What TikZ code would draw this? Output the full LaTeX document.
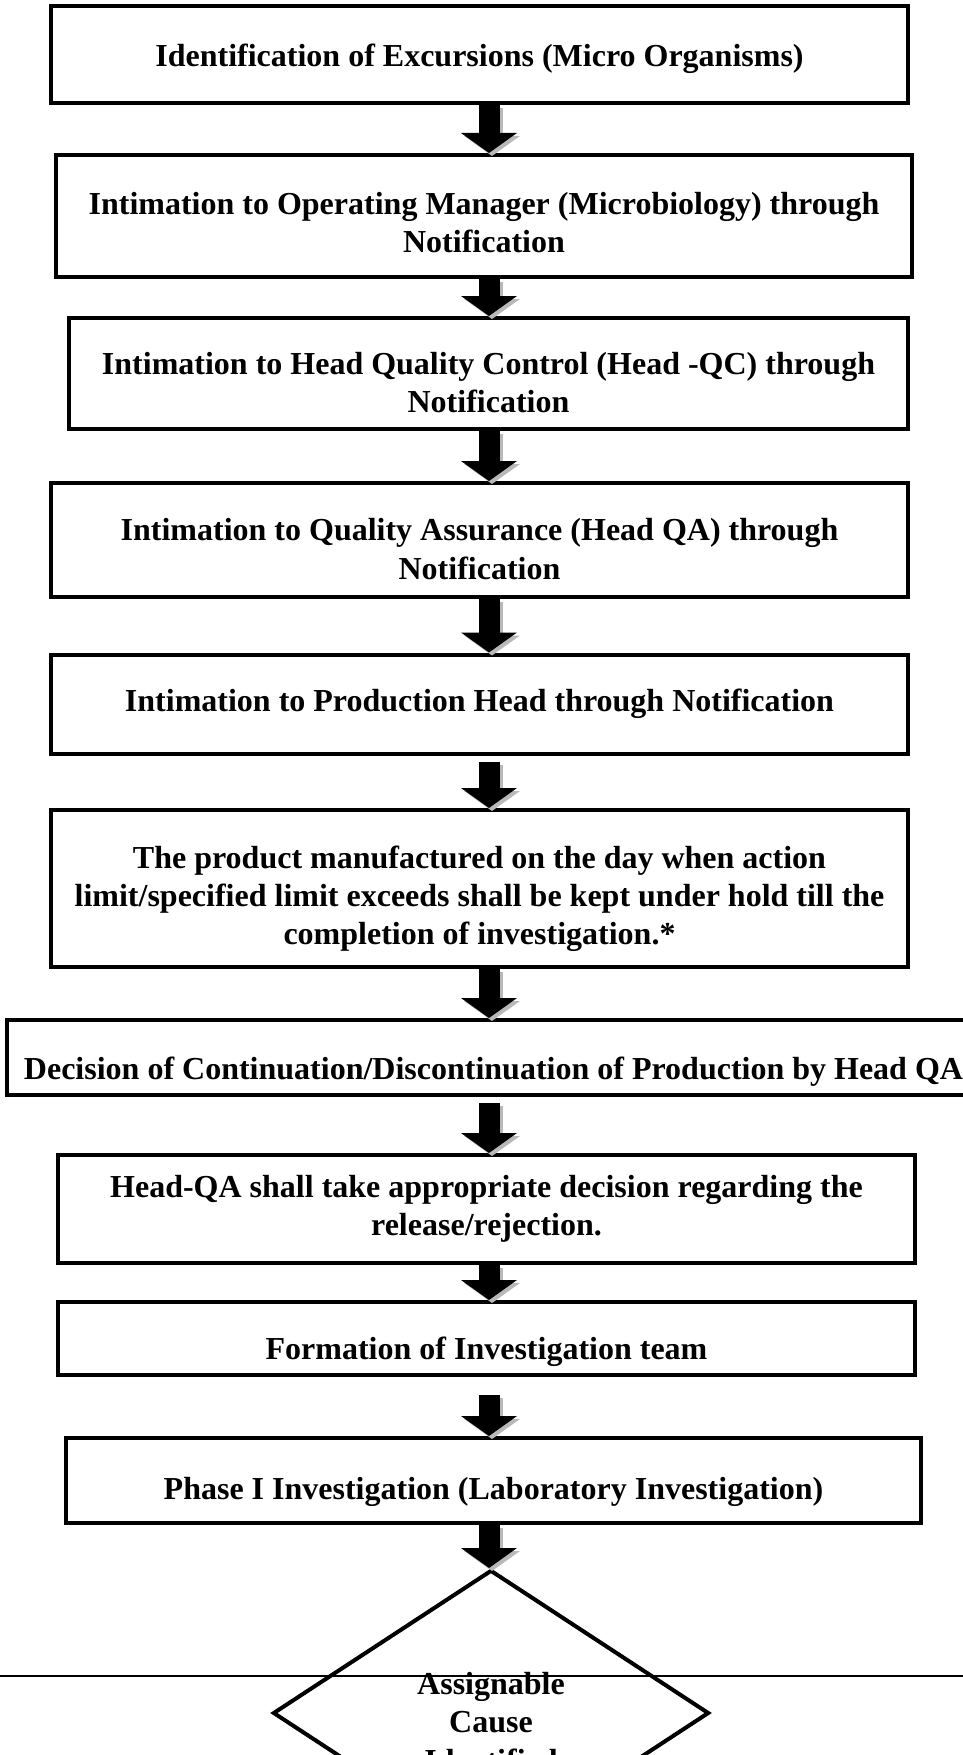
\documentclass[tikz,border=0pt]{standalone}
\usepackage{fontspec}
\setmainfont{Liberation Serif}
\usetikzlibrary{arrows.meta,shapes.geometric}

% invisible strut that pushes the text of a box a little lower
\newcommand{\textdrop}[1]{\rule{0pt}{#1}}

\tikzset{
  stepbox/.style={draw, line width=2pt, align=center, inner sep=0pt,
    font=\bfseries\fontsize{16}{19.2}\selectfont},
  blockarrow/.style={line width=10.5pt, -{Triangle[width=27.5pt,length=10pt]}},
}

\begin{document}
\begin{tikzpicture}[x=0.5pt,y=-0.5pt]
    \useasboundingbox (0,0) rectangle (963,1755);
    \clip (0,0) rectangle (963,1755);
    \coordinate (mid) at (489,0);

    \node [stepbox, minimum width=428.5pt, minimum height=48.5pt] (ident) at (479.5,54.5)
        {\textdrop{15.4pt}Identification of Excursions (Micro Organisms)};
    \node [stepbox, minimum width=428pt, minimum height=61pt] (opmgr) at (484,216)
        {\textdrop{17.8pt}Intimation to Operating Manager (Microbiology) through\\Notification};
    \node [stepbox, minimum width=419.5pt, minimum height=55.5pt] (headqc) at (488.5,373.5)
        {\textdrop{20pt}Intimation to Head Quality Control (Head -QC) through\\Notification};
    \node [stepbox, minimum width=428.5pt, minimum height=57pt] (headqa) at (479.5,540)
        {\textdrop{20pt}Intimation to Quality Assurance (Head QA) through\\Notification};
    \node [stepbox, minimum width=428.5pt, minimum height=49.5pt] (prodhead) at (479.5,704)
        {Intimation to Production Head through Notification};
    \node [stepbox, minimum width=428.5pt, minimum height=78.5pt] (hold) at (479.5,888.5)
        {\textdrop{21.6pt}The product manufactured on the day when action\\limit/specified limit exceeds shall be kept under hold till the\\completion of investigation.*};
    \node [stepbox, minimum width=486.5pt, minimum height=37.5pt] (decision) at (493.5,1057.5)
        {\textdrop{25.6pt}Decision of Continuation/Discontinuation of Production by Head QA};
    \node [stepbox, minimum width=428.5pt, minimum height=54pt] (release) at (486.5,1209)
        {Head-QA shall take appropriate decision regarding the\\release/rejection.};
    \node [stepbox, minimum width=428.5pt, minimum height=36.5pt] (team) at (486.5,1338.5)
        {\textdrop{24.4pt}Formation of Investigation team};
    \node [stepbox, minimum width=427.5pt, minimum height=42.5pt] (phaseone) at (493.5,1480.5)
        {\textdrop{22.2pt}Phase I Investigation (Laboratory Investigation)};
    \node [stepbox, shape=diamond, minimum width=218pt, minimum height=143pt] (cause) at (491,1713)
        {\textdrop{20pt}Assignable\\Cause\\Identified};

    % block arrows with grey shadow
    \foreach \a/\b/\g in {ident/opmgr/0, opmgr/headqc/0, headqc/headqa/0, headqa/prodhead/0,
        prodhead/hold/3, hold/decision/0, decision/release/3, release/team/0,
        team/phaseone/9, phaseone/cause/0} {
        \draw [blockarrow, gray!55, shorten <=\g pt] ([shift={(3,3)}]\a.south -| mid) -- ([shift={(3,3)}]\b.north -| mid);
        \draw [blockarrow, shorten <=\g pt] (\a.south -| mid) -- (\b.north -| mid);
    }

    \draw [line width=1.2pt] (0,1676) -- (963,1676);
\end{tikzpicture}
\end{document}
